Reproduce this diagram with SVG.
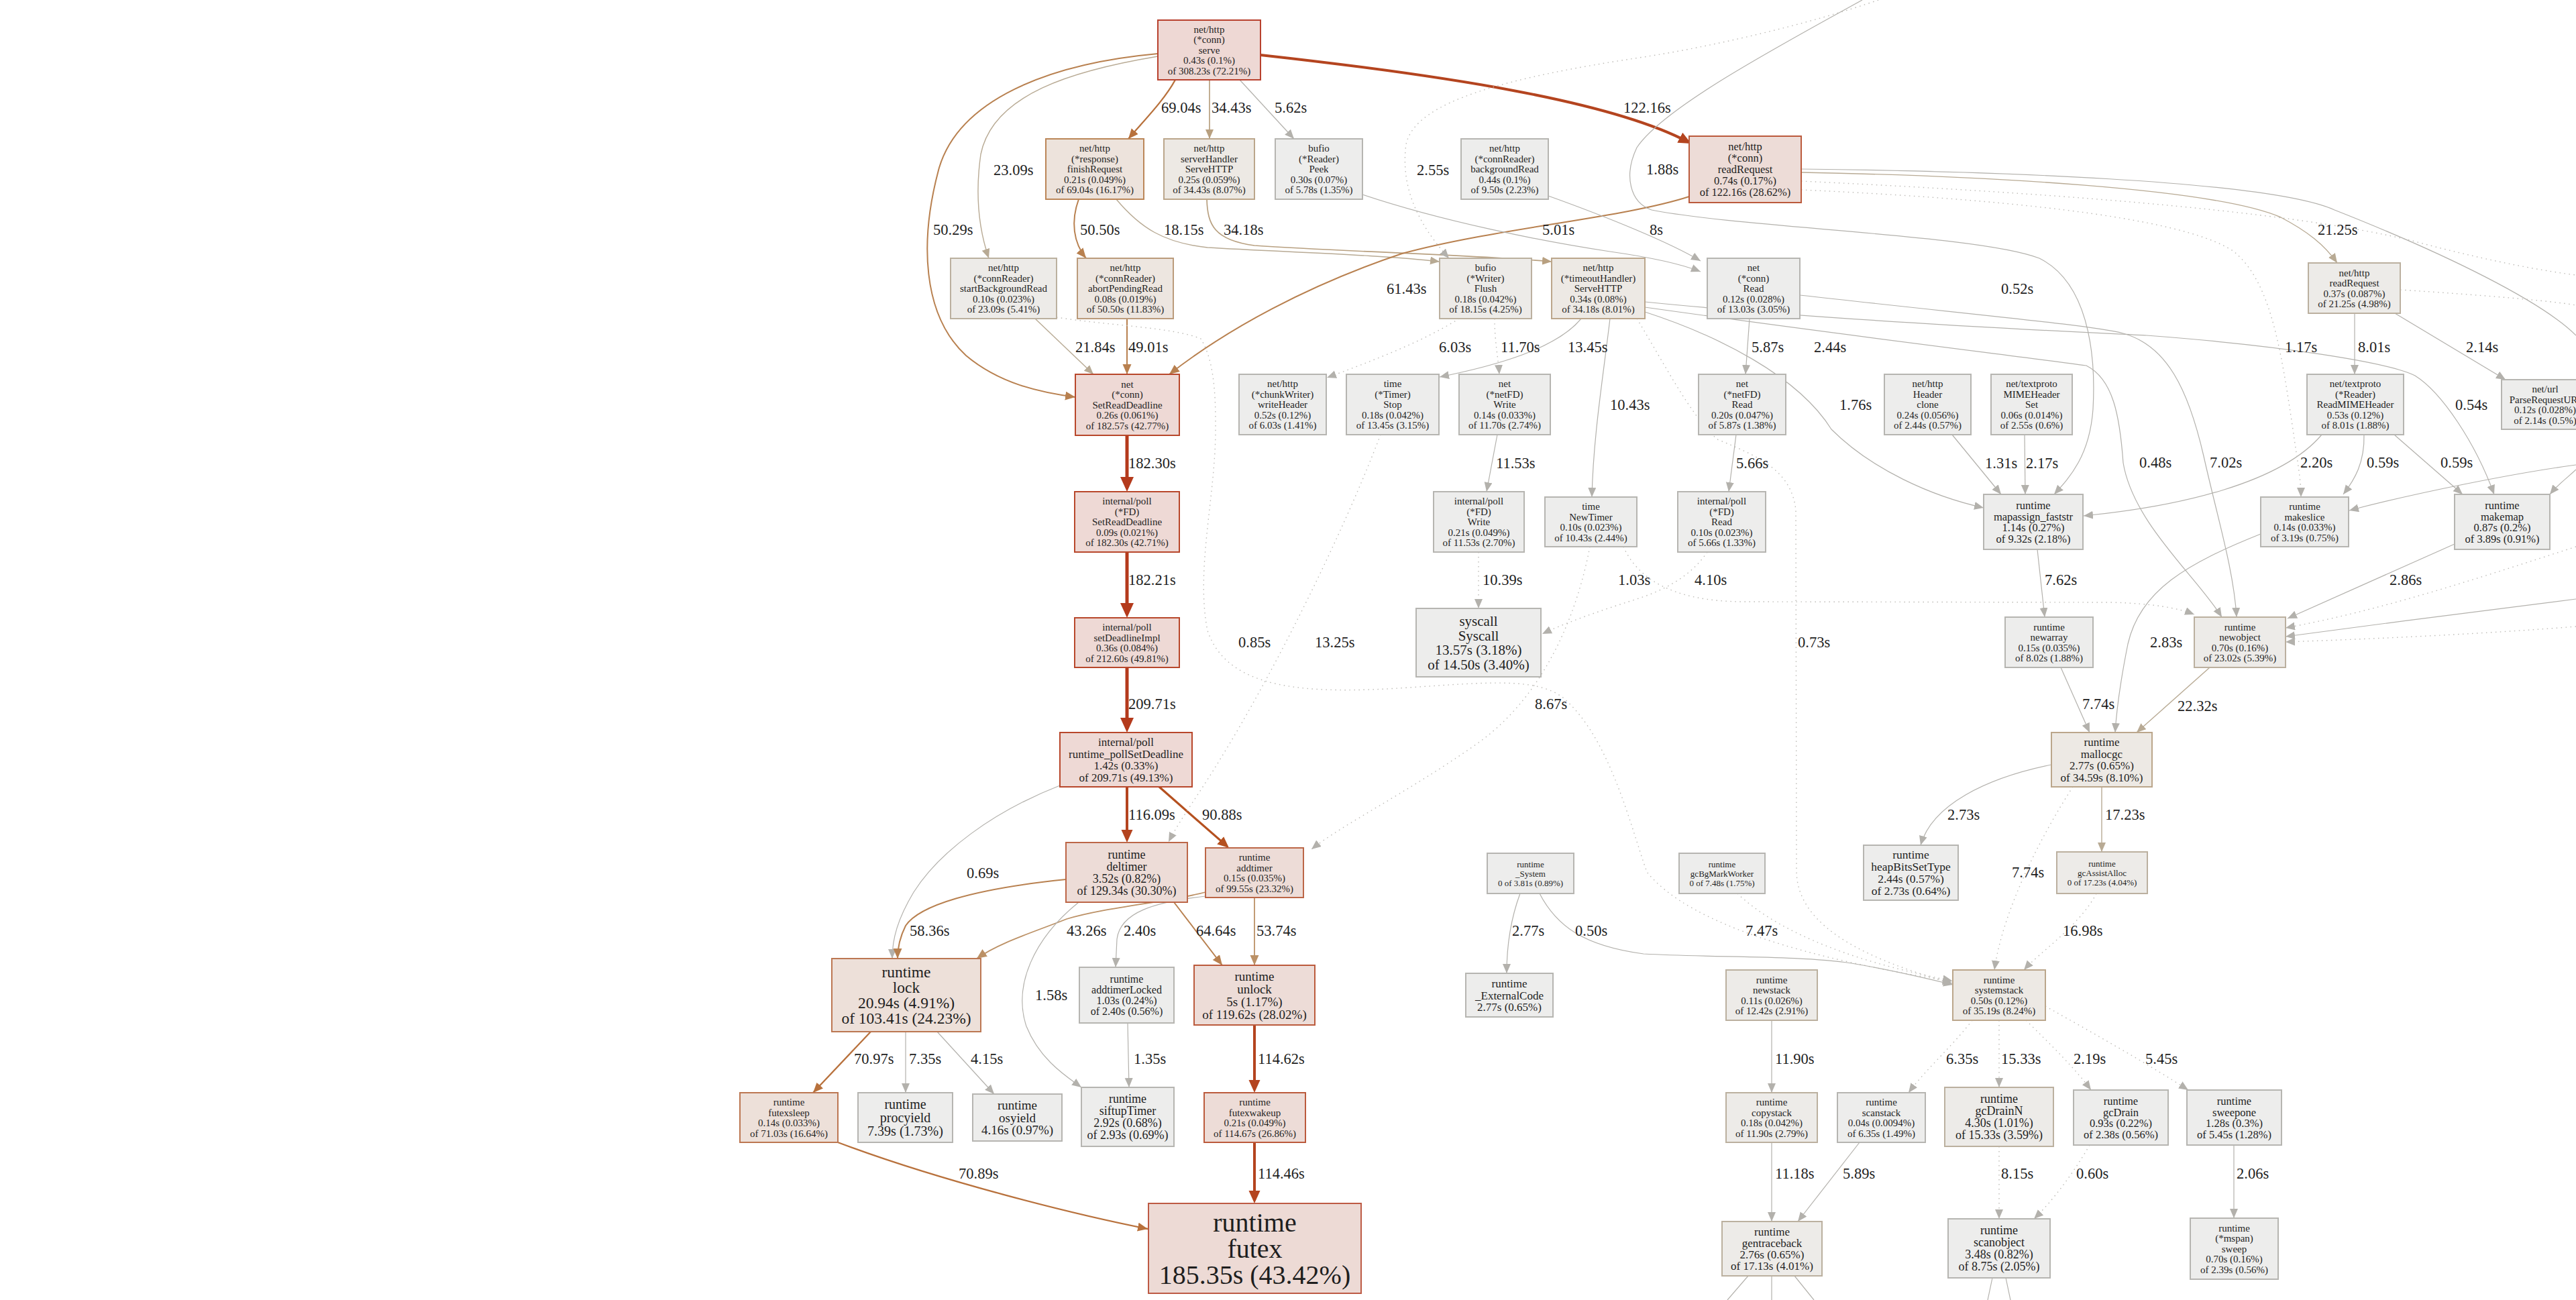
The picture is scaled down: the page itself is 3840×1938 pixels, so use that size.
<svg xmlns="http://www.w3.org/2000/svg" width="3840" height="1938" viewBox="0 0 3840 1938">
<defs>
<style>
.nd rect{stroke-width:2}
.nd text{font-family:"Liberation Serif","Times New Roman",serif;fill:#1e1e1e;text-anchor:middle}
.cA rect{fill:#eed8d4;stroke:#b8412e}
.cB rect{fill:#eed9d5;stroke:#b8472b}
.cC rect{fill:#eddad5;stroke:#bd5a44}
.cD rect{fill:#eddcd7;stroke:#bb5a3c}
.cE rect{fill:#eddcd7;stroke:#bc6647}
.cF rect{fill:#ede0d9;stroke:#bc7752}
.cG rect{fill:#ede3dc;stroke:#bb8658}
.cH rect{fill:#ede6e0;stroke:#bb9b7b}
.cI rect{fill:#ede9e4;stroke:#bba68b}
.cJ rect{fill:#edebe8;stroke:#bbb09f}
.cK rect{fill:#ededec;stroke:#b6b5b1}
.lbl text{font-family:"Liberation Serif","Times New Roman",serif;font-size:22.5px;fill:#1e1e1e}
#edges path{fill:none}
.er{stroke:#b43a1c;stroke-width:5;marker-end:url(#aR)}
.er2{stroke:#b4441f;stroke-width:4;marker-end:url(#aR2)}
.eo{stroke:#b5501f;stroke-width:3.2;marker-end:url(#aO)}
.eb{stroke:#b8713c;stroke-width:2.3;marker-end:url(#aB)}
.eb2{stroke:#b8804f;stroke-width:2;marker-end:url(#aB2)}
.eb3{stroke:#bc9166;stroke-width:1.8;marker-end:url(#aB3)}
.et{stroke:#b8a080;stroke-width:1.7;marker-end:url(#aT)}
.et2{stroke:#b8aa94;stroke-width:1.4;marker-end:url(#aT2)}
.eg{stroke:#b3b1ac;stroke-width:1.2;marker-end:url(#aG)}
.egn{stroke:#b3b1ac;stroke-width:1.2}
.ed{stroke:#bdbbb6;stroke-width:1.4;stroke-dasharray:1.5 5.5;marker-end:url(#aG)}
.edn{stroke:#bdbbb6;stroke-width:1.4;stroke-dasharray:1.5 5.5}
</style>
<marker id="aR" markerUnits="userSpaceOnUse" markerWidth="24" markerHeight="22" refX="16" refY="10" orient="auto"><path d="M0,0 L22,10 L0,20 z" fill="#b43a1c"/></marker>
<marker id="aR2" markerUnits="userSpaceOnUse" markerWidth="21" markerHeight="19" refX="14" refY="8.5" orient="auto"><path d="M0,0 L19,8.5 L0,17 z" fill="#b4441f"/></marker>
<marker id="aO" markerUnits="userSpaceOnUse" markerWidth="19" markerHeight="17" refX="13" refY="7.5" orient="auto"><path d="M0,0 L17,7.5 L0,15 z" fill="#b5501f"/></marker>
<marker id="aB" markerUnits="userSpaceOnUse" markerWidth="17" markerHeight="15" refX="15" refY="6.5" orient="auto"><path d="M0,0 L15,6.5 L0,13 z" fill="#b8713c"/></marker>
<marker id="aB2" markerUnits="userSpaceOnUse" markerWidth="17" markerHeight="15" refX="15" refY="6.5" orient="auto"><path d="M0,0 L15,6.5 L0,13 z" fill="#b8804f"/></marker>
<marker id="aB3" markerUnits="userSpaceOnUse" markerWidth="17" markerHeight="15" refX="15" refY="6.5" orient="auto"><path d="M0,0 L15,6.5 L0,13 z" fill="#bc9166"/></marker>
<marker id="aT" markerUnits="userSpaceOnUse" markerWidth="16" markerHeight="14" refX="14" refY="6" orient="auto"><path d="M0,0 L14,6 L0,12 z" fill="#b8a080"/></marker>
<marker id="aT2" markerUnits="userSpaceOnUse" markerWidth="16" markerHeight="14" refX="14" refY="6" orient="auto"><path d="M0,0 L14,6 L0,12 z" fill="#b8aa94"/></marker>
<marker id="aG" markerUnits="userSpaceOnUse" markerWidth="16" markerHeight="14" refX="14" refY="6" orient="auto"><path d="M0,0 L14,6 L0,12 z" fill="#b3b1ac"/></marker>
</defs>
<rect width="3840" height="1938" fill="#ffffff"/>
<g id="edges">
<path class="eb" d="M1752,119 C1735,150 1705,180 1682,207"/>
<path class="et" d="M1803,119 L1803,207"/>
<path class="eg" d="M1848,119 L1929,207"/>
<path class="er2" d="M1879,82 C2150,112 2400,150 2516.6,211.7"/>
<path class="et2" d="M1726,84 C1600,105 1480,140 1462,230 C1452,300 1462,350 1474,385"/>
<path class="eb2" d="M1726,80 C1560,95 1430,150 1400,250 C1370,360 1375,470 1440,530 C1490,572 1550,585 1603,592"/>
<path class="eb2" d="M1608,297 C1596,330 1600,362 1619,385"/>
<path class="et2" d="M1664,297 C1700,340 1735,362 1800,369 C1920,376 2060,380 2146,390"/>
<path class="et" d="M1799,297 C1800,335 1810,358 1870,366 C2020,376 2200,380 2313,390"/>
<path class="eb2" d="M2518,293 C2420,325 2230,340 2090,378 C1950,425 1830,490 1743,558"/>
<path class="et2" d="M2685,257 C2950,262 3300,280 3400,324 C3440,345 3465,365 3484,392"/>
<path class="egn" d="M2685,252 C2950,255 3380,268 3480,313 C3650,380 3790,450 3840,500"/>
<path class="eg" d="M2031,290 C2150,330 2300,360 2400,375 C2470,385 2510,395 2535,405"/>
<path class="eg" d="M2308,292 C2400,325 2490,362 2535,389"/>
<path class="et2" d="M1543,475 L1630,558"/>
<path class="eb2" d="M1680,475 L1680,558"/>
<path class="er" d="M1680,649 L1680,727"/>
<path class="er" d="M1680,823 L1680,915"/>
<path class="er" d="M1680,995 L1680,1086"/>
<path class="er2" d="M1680,1173 L1680,1251"/>
<path class="eo" d="M1728,1173 L1829,1261.4"/>
<path class="eg" d="M1580,1171 C1480,1210 1400,1270 1362,1330 C1338,1370 1330,1400 1330,1429"/>
<path class="ed" d="M2175,475 C2120,510 2040,540 1978,563"/>
<path class="ed" d="M2228,475 C2228,510 2233,530 2235,558"/>
<path class="eg" d="M2357,475 C2320,520 2230,545 2146,562"/>
<path class="eg" d="M2400,475 C2390,560 2375,650 2373,741"/>
<path class="eg" d="M2232,648 L2216,733"/>
<path class="ed" d="M2204,823 L2204,907"/>
<path class="eg" d="M2608,475 L2602,558"/>
<path class="eg" d="M2588,648 L2577,733"/>
<path class="ed" d="M2545,823 C2520,860 2480,880 2440,893 C2380,912 2330,930 2299,945"/>
<path class="ed" d="M2420,815 C2440,860 2490,897 2600,897 L3150,898 C3210,900 3245,906 3271,916"/>
<path class="ed" d="M2370,815 C2350,920 2300,1040 2200,1110 C2100,1180 2000,1230 1955,1266"/>
<path class="ed" d="M2058,648 C2000,800 1900,1000 1820,1130 C1790,1180 1760,1220 1742,1255"/>
<path class="ed" d="M1575,473 C1650,485 1750,488 1790,505 C1812,540 1812,600 1812,640 C1812,740 1782,850 1800,940 C1830,1030 1950,1035 2100,1025 C2220,1017 2290,1010 2330,1040 C2400,1100 2430,1230 2455,1300 C2520,1380 2700,1430 2910,1463"/>
<path class="ed" d="M2440,475 C2480,540 2520,620 2560,655 C2620,680 2670,700 2677,760 L2678,1300 C2680,1385 2790,1432 2910,1466"/>
<path class="eg" d="M2295,1332 C2320,1380 2360,1410 2450,1422 C2560,1428 2680,1424 2760,1436 C2820,1446 2870,1458 2911,1468"/>
<path class="eg" d="M2266,1332 C2252,1370 2246,1410 2246,1451"/>
<path class="ed" d="M2590,1332 C2640,1380 2740,1430 2910,1462"/>
<path class="ed" d="M3090,1173 C3040,1250 2985,1360 2973,1446"/>
<path class="ed" d="M3125,1332 C3100,1380 3040,1420 3017,1446"/>
<path class="ed" d="M2940,1521 C2910,1560 2870,1595 2845,1629"/>
<path class="ed" d="M2980,1521 L2980,1621"/>
<path class="ed" d="M3020,1521 C3060,1560 3095,1595 3117,1625"/>
<path class="ed" d="M3049,1500 C3120,1540 3200,1585 3262,1625"/>
<path class="eg" d="M2641,1521 L2641,1629"/>
<path class="eg" d="M2641,1703 L2641,1821"/>
<path class="eg" d="M2772,1703 L2680,1821"/>
<path class="ed" d="M2980,1709 L2980,1817"/>
<path class="ed" d="M3115,1707 C3090,1750 3060,1790 3032,1817"/>
<path class="eg" d="M3330,1707 L3330,1816"/>
<path class="egn" d="M2606,1902 L2575,1938 M2641,1902 L2641,1938 M2675,1902 L2704,1938 M2970,1905 L2963,1938 M2990,1905 L2997,1938"/>
<path class="eg" d="M3037,819 L3048,920"/>
<path class="eg" d="M3072,995 L3115,1092"/>
<path class="et2" d="M3294,995 L3185,1092"/>
<path class="eg" d="M3370,796 C3260,840 3190,880 3172,960 C3160,1020 3155,1060 3153,1092"/>
<path class="eg" d="M3659,811 L3410,922"/>
<path class="eg" d="M3058,1140 C2960,1160 2880,1200 2863,1260"/>
<path class="et2" d="M3133,1173 L3133,1270"/>
<path class="eg" d="M2910,648 L2983,737"/>
<path class="eg" d="M3018,648 L3019,737"/>
<path class="eg" d="M2776,0 C2650,70 2480,160 2440,220 C2420,262 2430,302 2462,313 C2600,340 2950,350 3040,385 C3110,420 3125,520 3120,610 C3115,680 3085,712 3062,737"/>
<path class="eg" d="M2452,465 C2560,500 2680,560 2730,640 C2790,700 2880,740 2957,757"/>
<path class="eg" d="M3461,648 C3400,720 3250,755 3106,769"/>
<path class="eg" d="M3524,648 C3525,690 3510,715 3493,737"/>
<path class="eg" d="M3569,648 L3671,737"/>
<path class="eg" d="M3510,467 L3510,558"/>
<path class="eg" d="M3570,467 L3735,566"/>
<path class="edn" d="M3578,432 C3700,440 3800,448 3840,455"/>
<path class="ed" d="M2685,283 C2950,295 3250,320 3330,375 C3385,420 3400,520 3418,640 C3425,690 3430,715 3430,741"/>
<path class="edn" d="M2685,270 C3000,285 3400,310 3600,360 C3720,392 3800,405 3840,410"/>
<path class="eg" d="M2683,440 C2950,470 3120,485 3165,497 C3230,515 3262,580 3285,680 C3305,770 3330,850 3334,920"/>
<path class="eg" d="M2452,458 C2750,500 3000,530 3110,545 C3150,565 3160,620 3165,690 C3180,780 3275,860 3312,920"/>
<path class="eg" d="M2452,450 C2750,480 3100,495 3200,500 C3400,515 3560,540 3600,560 C3640,585 3690,660 3718,737"/>
<path class="eg" d="M3840,693 C3750,705 3600,735 3502,761"/>
<path class="eg" d="M3840,700 C3830,710 3815,720 3801,737"/>
<path class="eg" d="M3840,893 C3700,910 3550,930 3407,949"/>
<path class="ed" d="M3840,815 C3700,860 3550,910 3407,936"/>
<path class="ed" d="M3840,934 C3700,945 3550,952 3407,957"/>
<path class="ed" d="M2800,0 C2700,35 2550,70 2450,85 C2250,115 2110,150 2096,215 C2088,275 2110,330 2160,385"/>
<path class="eb2" d="M1589,1311 C1450,1325 1370,1350 1350,1380 C1340,1400 1338,1415 1338,1429"/>
<path class="eb3" d="M1797,1330 C1740,1345 1650,1352 1590,1370 C1540,1390 1490,1405 1456,1429"/>
<path class="eb2" d="M1750,1345 L1822,1439"/>
<path class="eb3" d="M1870,1338 L1870,1439"/>
<path class="eg" d="M1797,1336 C1720,1345 1670,1360 1665,1400 L1663,1442"/>
<path class="eg" d="M1608,1345 C1540,1400 1510,1470 1530,1530 C1550,1580 1590,1605 1612,1621"/>
<path class="eg" d="M1681,1525 L1683,1621"/>
<path class="eb" d="M1298,1538 L1212,1629"/>
<path class="eg" d="M1350,1538 L1350,1629"/>
<path class="eg" d="M1397,1538 L1482,1631"/>
<path class="eb" d="M1249,1703 C1400,1760 1600,1810 1711,1832"/>
<path class="er2" d="M1870,1528 L1870,1624"/>
<path class="er2" d="M1870,1703 L1870,1789"/>
</g>
<g id="labels" class="lbl">
<text x="1731" y="168">69.04s</text>
<text x="1806" y="168">34.43s</text>
<text x="1900" y="168">5.62s</text>
<text x="2420" y="168">122.16s</text>
<text x="1481" y="261">23.09s</text>
<text x="2112" y="261">2.55s</text>
<text x="2454" y="260">1.88s</text>
<text x="1391" y="350">50.29s</text>
<text x="1610" y="350">50.50s</text>
<text x="1735" y="350">18.15s</text>
<text x="1824" y="350">34.18s</text>
<text x="2299" y="350">5.01s</text>
<text x="2459" y="350">8s</text>
<text x="3455" y="350">21.25s</text>
<text x="2067" y="438">61.43s</text>
<text x="2983" y="438">0.52s</text>
<text x="1603" y="525">21.84s</text>
<text x="1682" y="525">49.01s</text>
<text x="2145" y="525">6.03s</text>
<text x="2237" y="525">11.70s</text>
<text x="2337" y="525">13.45s</text>
<text x="2611" y="525">5.87s</text>
<text x="2704" y="525">2.44s</text>
<text x="3406" y="525">1.17s</text>
<text x="3515" y="525">8.01s</text>
<text x="3676" y="525">2.14s</text>
<text x="2400" y="611">10.43s</text>
<text x="2742" y="611">1.76s</text>
<text x="3660" y="611">0.54s</text>
<text x="1682" y="698">182.30s</text>
<text x="2230" y="698">11.53s</text>
<text x="2588" y="698">5.66s</text>
<text x="2959" y="698">1.31s</text>
<text x="3020" y="698">2.17s</text>
<text x="3189" y="697">0.48s</text>
<text x="3294" y="697">7.02s</text>
<text x="3429" y="697">2.20s</text>
<text x="3528" y="697">0.59s</text>
<text x="3638" y="697">0.59s</text>
<text x="1682" y="872">182.21s</text>
<text x="2210" y="872">10.39s</text>
<text x="2412" y="872">1.03s</text>
<text x="2526" y="872">4.10s</text>
<text x="3048" y="872">7.62s</text>
<text x="3562" y="872">2.86s</text>
<text x="1846" y="965">0.85s</text>
<text x="1960" y="965">13.25s</text>
<text x="2680" y="965">0.73s</text>
<text x="3205" y="965">2.83s</text>
<text x="1682" y="1057">209.71s</text>
<text x="2288" y="1057">8.67s</text>
<text x="3104" y="1057">7.74s</text>
<text x="3246" y="1060">22.32s</text>
<text x="1682" y="1222">116.09s</text>
<text x="1792" y="1222">90.88s</text>
<text x="2903" y="1222">2.73s</text>
<text x="3138" y="1222">17.23s</text>
<text x="2999" y="1308">7.74s</text>
<text x="1441" y="1309">0.69s</text>
<text x="1356" y="1395">58.36s</text>
<text x="1590" y="1395">43.26s</text>
<text x="1675" y="1395">2.40s</text>
<text x="1783" y="1395">64.64s</text>
<text x="1873" y="1395">53.74s</text>
<text x="2254" y="1395">2.77s</text>
<text x="2348" y="1395">0.50s</text>
<text x="2602" y="1395">7.47s</text>
<text x="3075" y="1395">16.98s</text>
<text x="1543" y="1491">1.58s</text>
<text x="1273" y="1586">70.97s</text>
<text x="1355" y="1586">7.35s</text>
<text x="1447" y="1586">4.15s</text>
<text x="1690" y="1586">1.35s</text>
<text x="1875" y="1586">114.62s</text>
<text x="2646" y="1586">11.90s</text>
<text x="2901" y="1586">6.35s</text>
<text x="2983" y="1586">15.33s</text>
<text x="3091" y="1586">2.19s</text>
<text x="3198" y="1586">5.45s</text>
<text x="1429" y="1757">70.89s</text>
<text x="1875" y="1757">114.46s</text>
<text x="2646" y="1757">11.18s</text>
<text x="2747" y="1757">5.89s</text>
<text x="2983" y="1757">8.15s</text>
<text x="3095" y="1757">0.60s</text>
<text x="3334" y="1757">2.06s</text>
</g>
<g id="n-serve" class="nd cA"><rect x="1726" y="30" width="153" height="89"/><text font-size="15" y="48.8"><tspan x="1802.5">net/http</tspan><tspan x="1802.5" dy="15.5">(*conn)</tspan><tspan x="1802.5" dy="15.5">serve</tspan><tspan x="1802.5" dy="15.5">0.43s (0.1%)</tspan><tspan x="1802.5" dy="15.5">of 308.23s (72.21%)</tspan></text></g>
<g id="n-finishRequest" class="nd cG"><rect x="1559" y="207" width="146" height="90"/><text font-size="15" y="226.3"><tspan x="1632">net/http</tspan><tspan x="1632" dy="15.5">(*response)</tspan><tspan x="1632" dy="15.5">finishRequest</tspan><tspan x="1632" dy="15.5">0.21s (0.049%)</tspan><tspan x="1632" dy="15.5">of 69.04s (16.17%)</tspan></text></g>
<g id="n-serverHandler" class="nd cI"><rect x="1735" y="207" width="135" height="90"/><text font-size="15" y="226.3"><tspan x="1802.5">net/http</tspan><tspan x="1802.5" dy="15.5">serverHandler</tspan><tspan x="1802.5" dy="15.5">ServeHTTP</tspan><tspan x="1802.5" dy="15.5">0.25s (0.059%)</tspan><tspan x="1802.5" dy="15.5">of 34.43s (8.07%)</tspan></text></g>
<g id="n-peek" class="nd cK"><rect x="1901" y="207" width="130" height="90"/><text font-size="15" y="226.3"><tspan x="1966">bufio</tspan><tspan x="1966" dy="15.5">(*Reader)</tspan><tspan x="1966" dy="15.5">Peek</tspan><tspan x="1966" dy="15.5">0.30s (0.07%)</tspan><tspan x="1966" dy="15.5">of 5.78s (1.35%)</tspan></text></g>
<g id="n-backgroundRead" class="nd cK"><rect x="2178" y="207" width="130" height="90"/><text font-size="15" y="226.3"><tspan x="2243">net/http</tspan><tspan x="2243" dy="15.5">(*connReader)</tspan><tspan x="2243" dy="15.5">backgroundRead</tspan><tspan x="2243" dy="15.5">0.44s (0.1%)</tspan><tspan x="2243" dy="15.5">of 9.50s (2.23%)</tspan></text></g>
<g id="n-readRequestConn" class="nd cD"><rect x="2518" y="203" width="167" height="99"/><text font-size="16.5" y="224.3"><tspan x="2601.5">net/http</tspan><tspan x="2601.5" dy="17">(*conn)</tspan><tspan x="2601.5" dy="17">readRequest</tspan><tspan x="2601.5" dy="17">0.74s (0.17%)</tspan><tspan x="2601.5" dy="17">of 122.16s (28.62%)</tspan></text></g>
<g id="n-startBackgroundRead" class="nd cJ"><rect x="1417" y="385" width="158" height="90"/><text font-size="15" y="404.3"><tspan x="1496">net/http</tspan><tspan x="1496" dy="15.5">(*connReader)</tspan><tspan x="1496" dy="15.5">startBackgroundRead</tspan><tspan x="1496" dy="15.5">0.10s (0.023%)</tspan><tspan x="1496" dy="15.5">of 23.09s (5.41%)</tspan></text></g>
<g id="n-abortPendingRead" class="nd cH"><rect x="1606" y="385" width="143" height="90"/><text font-size="15" y="404.3"><tspan x="1677.5">net/http</tspan><tspan x="1677.5" dy="15.5">(*connReader)</tspan><tspan x="1677.5" dy="15.5">abortPendingRead</tspan><tspan x="1677.5" dy="15.5">0.08s (0.019%)</tspan><tspan x="1677.5" dy="15.5">of 50.50s (11.83%)</tspan></text></g>
<g id="n-flush" class="nd cJ"><rect x="2146" y="385" width="137" height="90"/><text font-size="15" y="404.3"><tspan x="2214.5">bufio</tspan><tspan x="2214.5" dy="15.5">(*Writer)</tspan><tspan x="2214.5" dy="15.5">Flush</tspan><tspan x="2214.5" dy="15.5">0.18s (0.042%)</tspan><tspan x="2214.5" dy="15.5">of 18.15s (4.25%)</tspan></text></g>
<g id="n-timeoutHandler" class="nd cI"><rect x="2313" y="385" width="139" height="90"/><text font-size="15" y="404.3"><tspan x="2382.5">net/http</tspan><tspan x="2382.5" dy="15.5">(*timeoutHandler)</tspan><tspan x="2382.5" dy="15.5">ServeHTTP</tspan><tspan x="2382.5" dy="15.5">0.34s (0.08%)</tspan><tspan x="2382.5" dy="15.5">of 34.18s (8.01%)</tspan></text></g>
<g id="n-connRead" class="nd cK"><rect x="2545" y="385" width="138" height="90"/><text font-size="15" y="404.3"><tspan x="2614">net</tspan><tspan x="2614" dy="15.5">(*conn)</tspan><tspan x="2614" dy="15.5">Read</tspan><tspan x="2614" dy="15.5">0.12s (0.028%)</tspan><tspan x="2614" dy="15.5">of 13.03s (3.05%)</tspan></text></g>
<g id="n-readRequest" class="nd cJ"><rect x="3441" y="392" width="137" height="75"/><text font-size="15" y="411.5"><tspan x="3509.5">net/http</tspan><tspan x="3509.5" dy="15.5">readRequest</tspan><tspan x="3509.5" dy="15.5">0.37s (0.087%)</tspan><tspan x="3509.5" dy="15.5">of 21.25s (4.98%)</tspan></text></g>
<g id="n-connSetReadDeadline" class="nd cB"><rect x="1603" y="558" width="155" height="91"/><text font-size="15" y="577.8"><tspan x="1680.5">net</tspan><tspan x="1680.5" dy="15.5">(*conn)</tspan><tspan x="1680.5" dy="15.5">SetReadDeadline</tspan><tspan x="1680.5" dy="15.5">0.26s (0.061%)</tspan><tspan x="1680.5" dy="15.5">of 182.57s (42.77%)</tspan></text></g>
<g id="n-writeHeader" class="nd cK"><rect x="1847" y="558" width="130" height="90"/><text font-size="15" y="577.3"><tspan x="1912">net/http</tspan><tspan x="1912" dy="15.5">(*chunkWriter)</tspan><tspan x="1912" dy="15.5">writeHeader</tspan><tspan x="1912" dy="15.5">0.52s (0.12%)</tspan><tspan x="1912" dy="15.5">of 6.03s (1.41%)</tspan></text></g>
<g id="n-timerStop" class="nd cK"><rect x="2007" y="558" width="138" height="90"/><text font-size="15" y="577.3"><tspan x="2076">time</tspan><tspan x="2076" dy="15.5">(*Timer)</tspan><tspan x="2076" dy="15.5">Stop</tspan><tspan x="2076" dy="15.5">0.18s (0.042%)</tspan><tspan x="2076" dy="15.5">of 13.45s (3.15%)</tspan></text></g>
<g id="n-netFDWrite" class="nd cK"><rect x="2175" y="558" width="136" height="90"/><text font-size="15" y="577.3"><tspan x="2243">net</tspan><tspan x="2243" dy="15.5">(*netFD)</tspan><tspan x="2243" dy="15.5">Write</tspan><tspan x="2243" dy="15.5">0.14s (0.033%)</tspan><tspan x="2243" dy="15.5">of 11.70s (2.74%)</tspan></text></g>
<g id="n-netFDRead" class="nd cK"><rect x="2532" y="558" width="130" height="90"/><text font-size="15" y="577.3"><tspan x="2597">net</tspan><tspan x="2597" dy="15.5">(*netFD)</tspan><tspan x="2597" dy="15.5">Read</tspan><tspan x="2597" dy="15.5">0.20s (0.047%)</tspan><tspan x="2597" dy="15.5">of 5.87s (1.38%)</tspan></text></g>
<g id="n-headerClone" class="nd cK"><rect x="2809" y="558" width="129" height="90"/><text font-size="15" y="577.3"><tspan x="2873.5">net/http</tspan><tspan x="2873.5" dy="15.5">Header</tspan><tspan x="2873.5" dy="15.5">clone</tspan><tspan x="2873.5" dy="15.5">0.24s (0.056%)</tspan><tspan x="2873.5" dy="15.5">of 2.44s (0.57%)</tspan></text></g>
<g id="n-mimeSet" class="nd cK"><rect x="2968" y="558" width="121" height="90"/><text font-size="15" y="577.3"><tspan x="3028.5">net/textproto</tspan><tspan x="3028.5" dy="15.5">MIMEHeader</tspan><tspan x="3028.5" dy="15.5">Set</tspan><tspan x="3028.5" dy="15.5">0.06s (0.014%)</tspan><tspan x="3028.5" dy="15.5">of 2.55s (0.6%)</tspan></text></g>
<g id="n-readMIMEHeader" class="nd cK"><rect x="3439" y="558" width="144" height="90"/><text font-size="15" y="577.3"><tspan x="3511">net/textproto</tspan><tspan x="3511" dy="15.5">(*Reader)</tspan><tspan x="3511" dy="15.5">ReadMIMEHeader</tspan><tspan x="3511" dy="15.5">0.53s (0.12%)</tspan><tspan x="3511" dy="15.5">of 8.01s (1.88%)</tspan></text></g>
<g id="n-parseRequestURI" class="nd cK"><rect x="3729" y="566" width="130" height="74"/><text font-size="15" y="585"><tspan x="3794">net/url</tspan><tspan x="3794" dy="15.5">ParseRequestURI</tspan><tspan x="3794" dy="15.5">0.12s (0.028%)</tspan><tspan x="3794" dy="15.5">of 2.14s (0.5%)</tspan></text></g>
<g id="n-fdSetReadDeadline" class="nd cB"><rect x="1602" y="733" width="156" height="90"/><text font-size="15" y="752.3"><tspan x="1680">internal/poll</tspan><tspan x="1680" dy="15.5">(*FD)</tspan><tspan x="1680" dy="15.5">SetReadDeadline</tspan><tspan x="1680" dy="15.5">0.09s (0.021%)</tspan><tspan x="1680" dy="15.5">of 182.30s (42.71%)</tspan></text></g>
<g id="n-setDeadlineImpl" class="nd cB"><rect x="1602" y="921" width="156" height="74"/><text font-size="15" y="940"><tspan x="1680">internal/poll</tspan><tspan x="1680" dy="15.5">setDeadlineImpl</tspan><tspan x="1680" dy="15.5">0.36s (0.084%)</tspan><tspan x="1680" dy="15.5">of 212.60s (49.81%)</tspan></text></g>
<g id="n-pollSetDeadline" class="nd cB"><rect x="1580" y="1092" width="197" height="81"/><text font-size="17" y="1112.3"><tspan x="1678.5">internal/poll</tspan><tspan x="1678.5" dy="17.5">runtime_pollSetDeadline</tspan><tspan x="1678.5" dy="17.5">1.42s (0.33%)</tspan><tspan x="1678.5" dy="17.5">of 209.71s (49.13%)</tspan></text></g>
<g id="n-newTimer" class="nd cK"><rect x="2303" y="741" width="137" height="74"/><text font-size="15" y="760"><tspan x="2371.5">time</tspan><tspan x="2371.5" dy="15.5">NewTimer</tspan><tspan x="2371.5" dy="15.5">0.10s (0.023%)</tspan><tspan x="2371.5" dy="15.5">of 10.43s (2.44%)</tspan></text></g>
<g id="n-fdWrite" class="nd cK"><rect x="2137" y="733" width="135" height="90"/><text font-size="15" y="752.3"><tspan x="2204.5">internal/poll</tspan><tspan x="2204.5" dy="15.5">(*FD)</tspan><tspan x="2204.5" dy="15.5">Write</tspan><tspan x="2204.5" dy="15.5">0.21s (0.049%)</tspan><tspan x="2204.5" dy="15.5">of 11.53s (2.70%)</tspan></text></g>
<g id="n-fdRead" class="nd cK"><rect x="2501" y="733" width="131" height="90"/><text font-size="15" y="752.3"><tspan x="2566.5">internal/poll</tspan><tspan x="2566.5" dy="15.5">(*FD)</tspan><tspan x="2566.5" dy="15.5">Read</tspan><tspan x="2566.5" dy="15.5">0.10s (0.023%)</tspan><tspan x="2566.5" dy="15.5">of 5.66s (1.33%)</tspan></text></g>
<g id="n-mapassign" class="nd cK"><rect x="2957" y="737" width="148" height="82"/><text font-size="16.5" y="759"><tspan x="3031">runtime</tspan><tspan x="3031" dy="16.5">mapassign_faststr</tspan><tspan x="3031" dy="16.5">1.14s (0.27%)</tspan><tspan x="3031" dy="16.5">of 9.32s (2.18%)</tspan></text></g>
<g id="n-makeslice" class="nd cK"><rect x="3370" y="741" width="131" height="74"/><text font-size="15" y="760"><tspan x="3435.5">runtime</tspan><tspan x="3435.5" dy="15.5">makeslice</tspan><tspan x="3435.5" dy="15.5">0.14s (0.033%)</tspan><tspan x="3435.5" dy="15.5">of 3.19s (0.75%)</tspan></text></g>
<g id="n-makemap" class="nd cK"><rect x="3659" y="737" width="142" height="82"/><text font-size="16.5" y="759"><tspan x="3730">runtime</tspan><tspan x="3730" dy="16.5">makemap</tspan><tspan x="3730" dy="16.5">0.87s (0.2%)</tspan><tspan x="3730" dy="16.5">of 3.89s (0.91%)</tspan></text></g>
<g id="n-syscall" class="nd cK"><rect x="2111" y="907" width="186" height="102"/><text font-size="21" y="933.1"><tspan x="2204">syscall</tspan><tspan x="2204" dy="21.5">Syscall</tspan><tspan x="2204" dy="21.5">13.57s (3.18%)</tspan><tspan x="2204" dy="21.5">of 14.50s (3.40%)</tspan></text></g>
<g id="n-newarray" class="nd cK"><rect x="2989" y="920" width="131" height="75"/><text font-size="15" y="939.5"><tspan x="3054.5">runtime</tspan><tspan x="3054.5" dy="15.5">newarray</tspan><tspan x="3054.5" dy="15.5">0.15s (0.035%)</tspan><tspan x="3054.5" dy="15.5">of 8.02s (1.88%)</tspan></text></g>
<g id="n-newobject" class="nd cJ"><rect x="3271" y="920" width="136" height="75"/><text font-size="15" y="939.5"><tspan x="3339">runtime</tspan><tspan x="3339" dy="15.5">newobject</tspan><tspan x="3339" dy="15.5">0.70s (0.16%)</tspan><tspan x="3339" dy="15.5">of 23.02s (5.39%)</tspan></text></g>
<g id="n-mallocgc" class="nd cI"><rect x="3058" y="1092" width="150" height="81"/><text font-size="17" y="1112.3"><tspan x="3133">runtime</tspan><tspan x="3133" dy="17.5">mallocgc</tspan><tspan x="3133" dy="17.5">2.77s (0.65%)</tspan><tspan x="3133" dy="17.5">of 34.59s (8.10%)</tspan></text></g>
<g id="n-deltimer" class="nd cE"><rect x="1589" y="1256" width="181" height="89"/><text font-size="18" y="1279.8"><tspan x="1679.5">runtime</tspan><tspan x="1679.5" dy="18">deltimer</tspan><tspan x="1679.5" dy="18">3.52s (0.82%)</tspan><tspan x="1679.5" dy="18">of 129.34s (30.30%)</tspan></text></g>
<g id="n-addtimer" class="nd cE"><rect x="1797" y="1264" width="146" height="74"/><text font-size="15" y="1283"><tspan x="1870">runtime</tspan><tspan x="1870" dy="15.5">addtimer</tspan><tspan x="1870" dy="15.5">0.15s (0.035%)</tspan><tspan x="1870" dy="15.5">of 99.55s (23.32%)</tspan></text></g>
<g id="n-lock" class="nd cF"><rect x="1240" y="1429" width="222" height="109"/><text font-size="23.5" y="1457.2"><tspan x="1351">runtime</tspan><tspan x="1351" dy="23">lock</tspan><tspan x="1351" dy="23">20.94s (4.91%)</tspan><tspan x="1351" dy="23">of 103.41s (24.23%)</tspan></text></g>
<g id="n-addtimerLocked" class="nd cK"><rect x="1609" y="1442" width="141" height="83"/><text font-size="16" y="1465.1"><tspan x="1679.5">runtime</tspan><tspan x="1679.5" dy="16">addtimerLocked</tspan><tspan x="1679.5" dy="16">1.03s (0.24%)</tspan><tspan x="1679.5" dy="16">of 2.40s (0.56%)</tspan></text></g>
<g id="n-unlock" class="nd cD"><rect x="1780" y="1439" width="180" height="89"/><text font-size="19" y="1461.7"><tspan x="1870">runtime</tspan><tspan x="1870" dy="19">unlock</tspan><tspan x="1870" dy="19">5s (1.17%)</tspan><tspan x="1870" dy="19">of 119.62s (28.02%)</tspan></text></g>
<g id="n-futexsleep" class="nd cF"><rect x="1103" y="1629" width="146" height="74"/><text font-size="15" y="1648"><tspan x="1176">runtime</tspan><tspan x="1176" dy="15.5">futexsleep</tspan><tspan x="1176" dy="15.5">0.14s (0.033%)</tspan><tspan x="1176" dy="15.5">of 71.03s (16.64%)</tspan></text></g>
<g id="n-procyield" class="nd cK"><rect x="1279" y="1629" width="141" height="74"/><text font-size="20" y="1653"><tspan x="1349.5">runtime</tspan><tspan x="1349.5" dy="20">procyield</tspan><tspan x="1349.5" dy="20">7.39s (1.73%)</tspan></text></g>
<g id="n-osyield" class="nd cK"><rect x="1450" y="1631" width="133" height="70"/><text font-size="19" y="1654.2"><tspan x="1516.5">runtime</tspan><tspan x="1516.5" dy="18.5">osyield</tspan><tspan x="1516.5" dy="18.5">4.16s (0.97%)</tspan></text></g>
<g id="n-siftupTimer" class="nd cK"><rect x="1612" y="1621" width="138" height="88"/><text font-size="18" y="1644.3"><tspan x="1681">runtime</tspan><tspan x="1681" dy="18">siftupTimer</tspan><tspan x="1681" dy="18">2.92s (0.68%)</tspan><tspan x="1681" dy="18">of 2.93s (0.69%)</tspan></text></g>
<g id="n-futexwakeup" class="nd cD"><rect x="1795" y="1629" width="151" height="74"/><text font-size="15" y="1648"><tspan x="1870.5">runtime</tspan><tspan x="1870.5" dy="15.5">futexwakeup</tspan><tspan x="1870.5" dy="15.5">0.21s (0.049%)</tspan><tspan x="1870.5" dy="15.5">of 114.67s (26.86%)</tspan></text></g>
<g id="n-futex" class="nd cC"><rect x="1712" y="1794" width="317" height="134"/><text font-size="40" y="1836"><tspan x="1870.5">runtime</tspan><tspan x="1870.5" dy="39">futex</tspan><tspan x="1870.5" dy="39">185.35s (43.42%)</tspan></text></g>
<g id="n-system" class="nd cK"><rect x="2217" y="1272" width="129" height="60"/><text font-size="13" y="1292.5"><tspan x="2281.5">runtime</tspan><tspan x="2281.5" dy="14">_System</tspan><tspan x="2281.5" dy="14">0 of 3.81s (0.89%)</tspan></text></g>
<g id="n-externalCode" class="nd cK"><rect x="2185" y="1451" width="130" height="65"/><text font-size="17" y="1472"><tspan x="2250">runtime</tspan><tspan x="2250" dy="17.5">_ExternalCode</tspan><tspan x="2250" dy="17.5">2.77s (0.65%)</tspan></text></g>
<g id="n-gcBgMarkWorker" class="nd cK"><rect x="2503" y="1272" width="128" height="60"/><text font-size="13" y="1292.5"><tspan x="2567">runtime</tspan><tspan x="2567" dy="14">gcBgMarkWorker</tspan><tspan x="2567" dy="14">0 of 7.48s (1.75%)</tspan></text></g>
<g id="n-heapBitsSetType" class="nd cK"><rect x="2778" y="1260" width="141" height="82"/><text font-size="17.5" y="1280.1"><tspan x="2848.5">runtime</tspan><tspan x="2848.5" dy="18">heapBitsSetType</tspan><tspan x="2848.5" dy="18">2.44s (0.57%)</tspan><tspan x="2848.5" dy="18">of 2.73s (0.64%)</tspan></text></g>
<g id="n-gcAssistAlloc" class="nd cJ"><rect x="3066" y="1270" width="135" height="62"/><text font-size="13" y="1291.5"><tspan x="3133.5">runtime</tspan><tspan x="3133.5" dy="14">gcAssistAlloc</tspan><tspan x="3133.5" dy="14">0 of 17.23s (4.04%)</tspan></text></g>
<g id="n-systemstack" class="nd cI"><rect x="2911" y="1446" width="138" height="75"/><text font-size="15" y="1465.5"><tspan x="2980">runtime</tspan><tspan x="2980" dy="15.5">systemstack</tspan><tspan x="2980" dy="15.5">0.50s (0.12%)</tspan><tspan x="2980" dy="15.5">of 35.19s (8.24%)</tspan></text></g>
<g id="n-newstack" class="nd cJ"><rect x="2573" y="1446" width="136" height="75"/><text font-size="15" y="1465.5"><tspan x="2641">runtime</tspan><tspan x="2641" dy="15.5">newstack</tspan><tspan x="2641" dy="15.5">0.11s (0.026%)</tspan><tspan x="2641" dy="15.5">of 12.42s (2.91%)</tspan></text></g>
<g id="n-copystack" class="nd cJ"><rect x="2573" y="1629" width="136" height="74"/><text font-size="15" y="1648"><tspan x="2641">runtime</tspan><tspan x="2641" dy="15.5">copystack</tspan><tspan x="2641" dy="15.5">0.18s (0.042%)</tspan><tspan x="2641" dy="15.5">of 11.90s (2.79%)</tspan></text></g>
<g id="n-scanstack" class="nd cK"><rect x="2739" y="1629" width="131" height="74"/><text font-size="15" y="1648"><tspan x="2804.5">runtime</tspan><tspan x="2804.5" dy="15.5">scanstack</tspan><tspan x="2804.5" dy="15.5">0.04s (0.0094%)</tspan><tspan x="2804.5" dy="15.5">of 6.35s (1.49%)</tspan></text></g>
<g id="n-gcDrainN" class="nd cJ"><rect x="2899" y="1621" width="162" height="88"/><text font-size="18" y="1644.3"><tspan x="2980">runtime</tspan><tspan x="2980" dy="18">gcDrainN</tspan><tspan x="2980" dy="18">4.30s (1.01%)</tspan><tspan x="2980" dy="18">of 15.33s (3.59%)</tspan></text></g>
<g id="n-gcDrain" class="nd cK"><rect x="3091" y="1625" width="141" height="82"/><text font-size="16.5" y="1647"><tspan x="3161.5">runtime</tspan><tspan x="3161.5" dy="16.5">gcDrain</tspan><tspan x="3161.5" dy="16.5">0.93s (0.22%)</tspan><tspan x="3161.5" dy="16.5">of 2.38s (0.56%)</tspan></text></g>
<g id="n-sweepone" class="nd cK"><rect x="3260" y="1625" width="141" height="82"/><text font-size="16.5" y="1647"><tspan x="3330.5">runtime</tspan><tspan x="3330.5" dy="16.5">sweepone</tspan><tspan x="3330.5" dy="16.5">1.28s (0.3%)</tspan><tspan x="3330.5" dy="16.5">of 5.45s (1.28%)</tspan></text></g>
<g id="n-gentraceback" class="nd cJ"><rect x="2567" y="1821" width="149" height="81"/><text font-size="17" y="1842"><tspan x="2641.5">runtime</tspan><tspan x="2641.5" dy="17">gentraceback</tspan><tspan x="2641.5" dy="17">2.76s (0.65%)</tspan><tspan x="2641.5" dy="17">of 17.13s (4.01%)</tspan></text></g>
<g id="n-scanobject" class="nd cK"><rect x="2904" y="1817" width="152" height="88"/><text font-size="18" y="1840.3"><tspan x="2980">runtime</tspan><tspan x="2980" dy="18">scanobject</tspan><tspan x="2980" dy="18">3.48s (0.82%)</tspan><tspan x="2980" dy="18">of 8.75s (2.05%)</tspan></text></g>
<g id="n-mspanSweep" class="nd cK"><rect x="3265" y="1816" width="131" height="91"/><text font-size="15" y="1835.8"><tspan x="3330.5">runtime</tspan><tspan x="3330.5" dy="15.5">(*mspan)</tspan><tspan x="3330.5" dy="15.5">sweep</tspan><tspan x="3330.5" dy="15.5">0.70s (0.16%)</tspan><tspan x="3330.5" dy="15.5">of 2.39s (0.56%)</tspan></text></g>
</svg>
